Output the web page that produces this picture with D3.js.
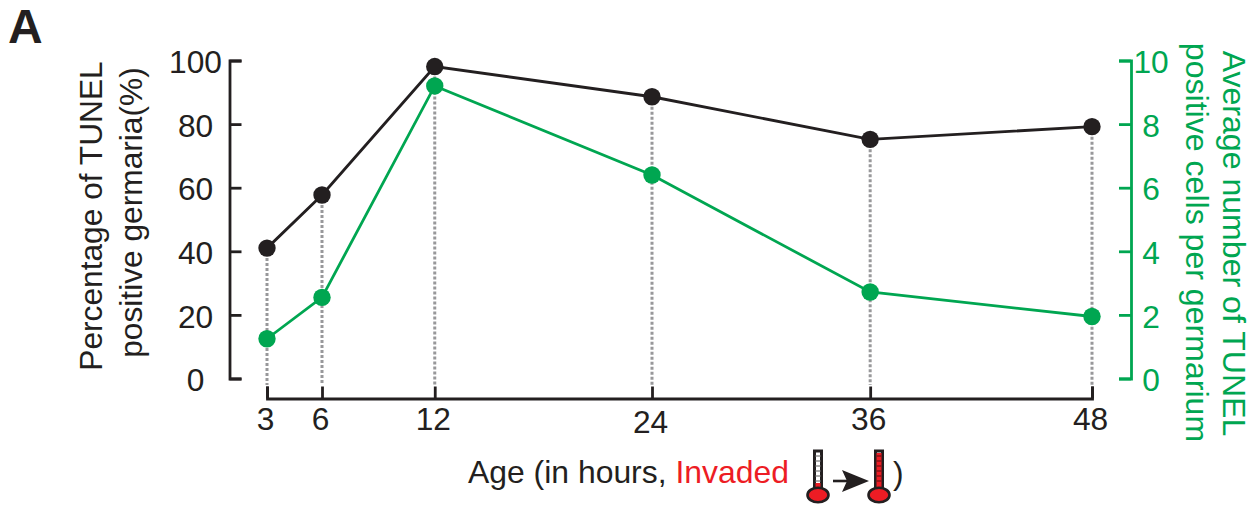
<!DOCTYPE html>
<html>
<head>
<meta charset="utf-8">
<script src="https://cdn.jsdelivr.net/npm/d3@7"></script>
<style>
  body { margin: 0; background: #fff; }
  svg { display: block; }
  text { font-family: "Liberation Sans", Arial, sans-serif; }
</style>
</head>
<body>
<div id="chart"></div>
<script>
var ages = [3, 6, 12, 24, 36, 48];
var agePositions = [3, 6, 12.15, 24, 35.9, 48];
var percentPositive = [41, 57.7, 98.1, 88.6, 75.2, 79.2];
var averageCells = [1.25, 2.55, 9.2, 6.4, 2.72, 1.95];
var leftTicks = [0, 20, 40, 60, 80, 100];
var rightTicks = [0, 2, 4, 6, 8, 10];

var BLACK = '#231f20', GREEN = '#00a651', RED = '#ed1c24', GREY = '#98989a';
var FONT = 31.7;

var svg = d3.select('#chart').append('svg')
  .attr('width', 1257)
  .attr('height', 508);

var x = d3.scaleLinear().domain([3, 48]).range([267, 1092]);
var yLeft = d3.scaleLinear().domain([0, 100]).range([378.5, 60.5]);
var yRight = d3.scaleLinear().domain([0, 10]).range([378.5, 60.5]);

svg.append('text')
  .attr('x', 8).attr('y', 43)
  .attr('font-size', 48).attr('font-weight', 'bold')
  .attr('fill', BLACK).text('A');

// dotted drop lines
svg.append('g').selectAll('line')
  .data(agePositions)
  .enter().append('line')
  .attr('x1', d => x(d)).attr('x2', d => x(d))
  .attr('y1', (d, i) => yLeft(percentPositive[i]))
  .attr('y2', 385)
  .attr('stroke', GREY).attr('stroke-width', 3)
  .attr('stroke-dasharray', '3 2');

// axes
function styleAxis(g, colour) {
  g.selectAll('.domain').attr('stroke', colour).attr('stroke-width', 2.8);
  g.selectAll('.tick line').attr('stroke', colour).attr('stroke-width', 2.8);
  g.selectAll('.tick text')
    .attr('fill', colour)
    .attr('font-size', FONT)
    .attr('font-family', '"Liberation Sans", Arial, sans-serif');
}

svg.append('g')
  .attr('transform', 'translate(229.5,0)')
  .call(d3.axisLeft(yLeft).tickValues(leftTicks).tickSize(-12).tickSizeOuter(-12))
  .call(g => styleAxis(g, BLACK))
  .call(g => g.selectAll('.tick text')
    .attr('x', -34).attr('y', 1).attr('text-anchor', 'middle').attr('dy', '0.35em'));

svg.append('g')
  .attr('transform', 'translate(1131,0)')
  .call(d3.axisRight(yRight).tickValues(rightTicks).tickSize(-12).tickSizeOuter(-12))
  .call(g => styleAxis(g, GREEN))
  .call(g => g.selectAll('.tick text')
    .attr('x', 20).attr('y', 1).attr('text-anchor', 'middle').attr('dy', '0.35em'));

svg.append('g')
  .attr('transform', 'translate(0,398.5)')
  .call(d3.axisBottom(x).tickValues(agePositions).tickSize(-12).tickSizeOuter(-12)
    .tickFormat((d, i) => ages[i]))
  .call(g => styleAxis(g, BLACK))
  .call(g => g.selectAll('.tick text').attr('x', -2).attr('y', 9).attr('dy', '0.72em'))
  .call(g => g.selectAll('.tick text').filter(d => d === 24).attr('y', 12));

// series
var line = d3.line().x((d, i) => x(agePositions[i]));

svg.append('path')
  .attr('d', line.y(d => yLeft(d))(percentPositive))
  .attr('fill', 'none').attr('stroke', BLACK).attr('stroke-width', 2.8);

svg.append('path')
  .attr('d', line.y(d => yRight(d))(averageCells))
  .attr('fill', 'none').attr('stroke', GREEN).attr('stroke-width', 2.8);

svg.append('g').selectAll('circle')
  .data(percentPositive)
  .enter().append('circle')
  .attr('cx', (d, i) => x(agePositions[i]))
  .attr('cy', d => yLeft(d))
  .attr('r', 8.7).attr('fill', BLACK);

svg.append('g').selectAll('circle')
  .data(averageCells)
  .enter().append('circle')
  .attr('cx', (d, i) => x(agePositions[i]))
  .attr('cy', d => yRight(d))
  .attr('r', 8.7).attr('fill', GREEN);

// axis titles
function rotated(px, py, angle, txt, colour, size) {
  svg.append('text')
    .attr('transform', 'translate(' + px + ',' + py + ') rotate(' + angle + ')')
    .attr('text-anchor', 'middle')
    .attr('font-size', size).attr('fill', colour)
    .text(txt);
}
rotated(102, 216, -90, 'Percentage of TUNEL', BLACK, FONT);
rotated(142, 212.5, -90, 'positive germaria(%)', BLACK, FONT);
rotated(1223, 243.5, 90, 'Average number of TUNEL', GREEN, 32.1);
rotated(1186, 242.5, 90, 'positive cells per germarium', GREEN, 32.1);

var xTitle = svg.append('text')
  .attr('x', 468).attr('y', 483)
  .attr('font-size', 31.9).attr('fill', BLACK);
xTitle.append('tspan').text('Age (in hours, ');
xTitle.append('tspan').attr('fill', RED).text('Invaded');

svg.append('text')
  .attr('x', 893).attr('y', 484)
  .attr('font-size', FONT).attr('fill', BLACK).text(')');

// thermometer icons
function thermometer(cx, topY, fillTop) {
  var g = svg.append('g');
  g.append('rect')
    .attr('x', cx - 3.5).attr('y', topY)
    .attr('width', 7).attr('height', 40)
    .attr('fill', '#fff').attr('stroke', BLACK).attr('stroke-width', 3);
  g.append('rect')
    .attr('x', cx - 2.5).attr('y', fillTop)
    .attr('width', 5).attr('height', topY + 40 - fillTop)
    .attr('fill', RED);
  d3.range(topY + 5, topY + 34, 5).forEach(function(yy) {
    g.append('line')
      .attr('x1', cx - 2.5).attr('x2', cx + 2.5)
      .attr('y1', yy).attr('y2', yy)
      .attr('stroke', yy >= fillTop ? '#7a1418' : '#888').attr('stroke-width', 1.4);
  });
  g.append('ellipse')
    .attr('cx', cx).attr('cy', topY + 44)
    .attr('rx', 10.5).attr('ry', 7.3)
    .attr('fill', RED).attr('stroke', BLACK).attr('stroke-width', 2.6);
}
thermometer(818, 451, 483);
thermometer(879, 451, 453);

// arrow between thermometers
svg.append('line')
  .attr('x1', 833).attr('x2', 852).attr('y1', 481).attr('y2', 481)
  .attr('stroke', BLACK).attr('stroke-width', 2.6);
svg.append('path')
  .attr('d', 'M842,470 L869,481 L842,492 L847,481 Z')
  .attr('fill', BLACK);
</script>
</body>
</html>
